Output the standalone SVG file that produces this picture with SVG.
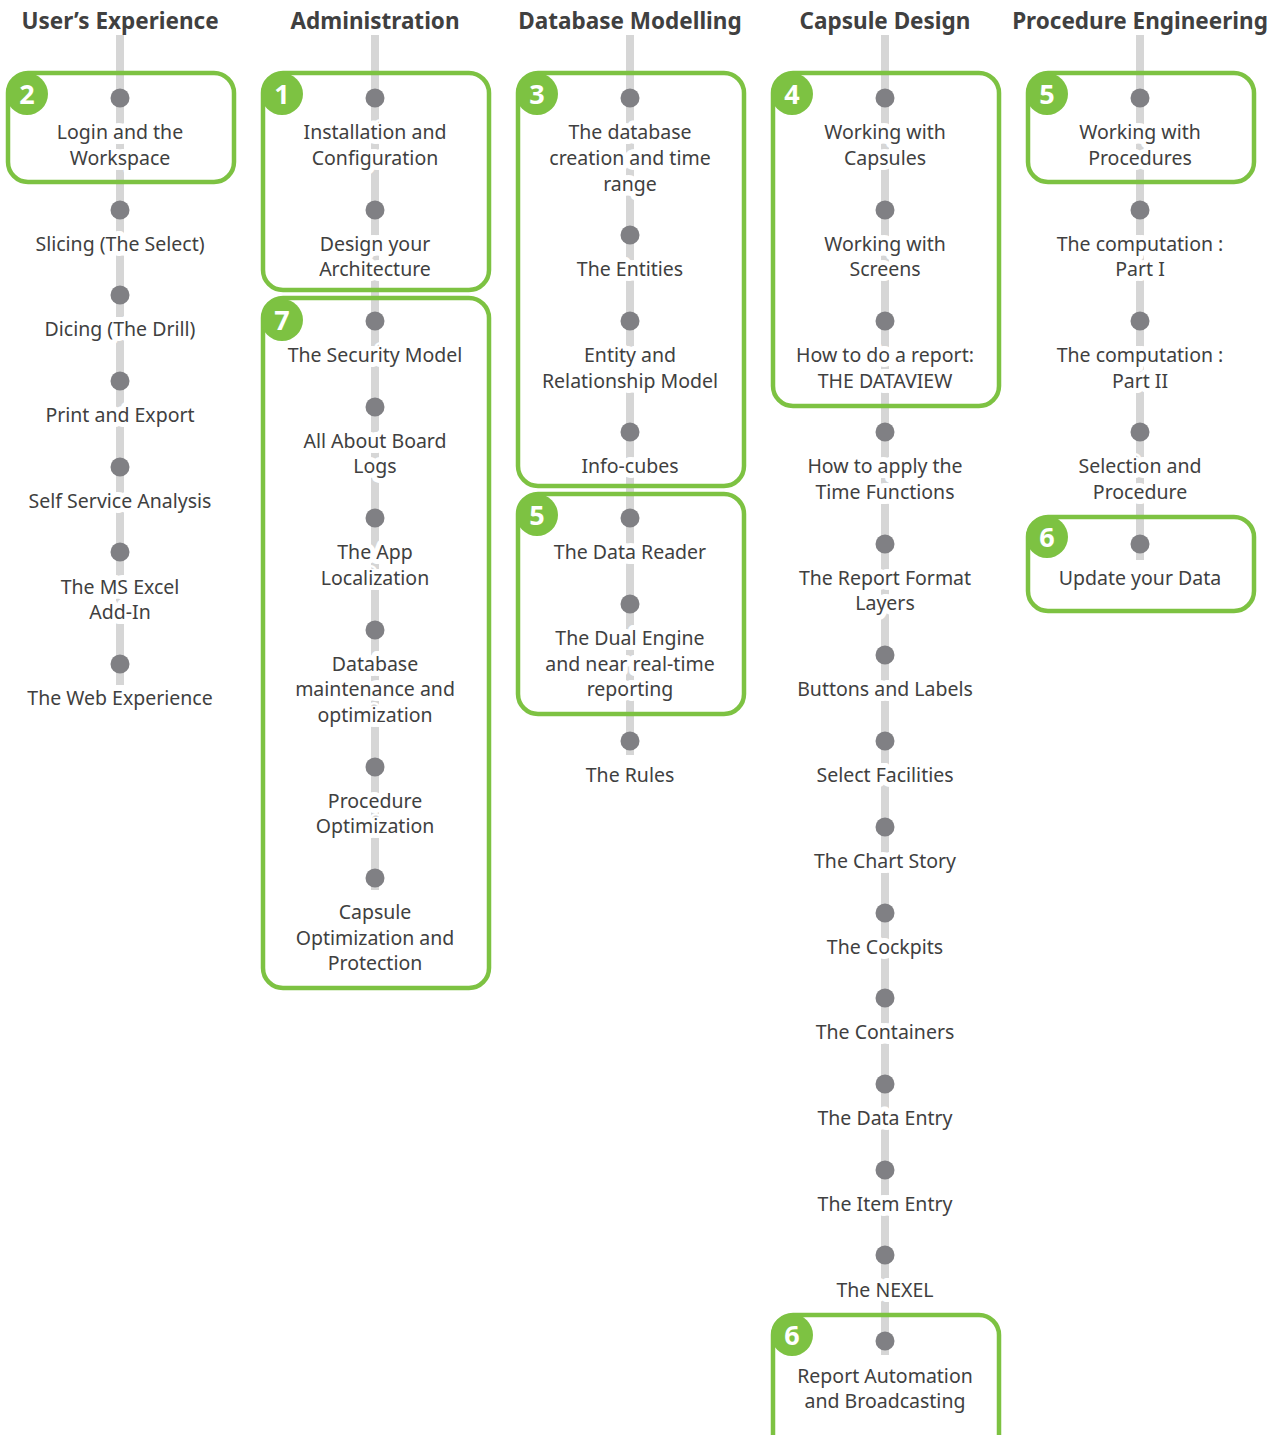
<svg xmlns="http://www.w3.org/2000/svg" width="1283" height="1435" viewBox="0 0 1283 1435">
<style>
.hdr{font-family:"Noto Sans","Open Sans",sans-serif;font-weight:bold;font-size:22.5px;fill:#404040;text-anchor:middle}
.t{font-family:"Noto Sans","Open Sans",sans-serif;font-size:19.5px;fill:#404040;text-anchor:middle;stroke:#fff;stroke-width:10;stroke-linejoin:round;paint-order:stroke}
.track{stroke:#d6d6d6;stroke-width:8;fill:none}
.dot{fill:#808084}
.box{fill:none;stroke:#7dc242;stroke-width:4.5}
.badge{fill:#7dc242}
.bn{font-family:"Noto Sans","Open Sans",sans-serif;font-weight:bold;font-size:27px;fill:#fff;text-anchor:middle}
</style>
<rect width="1283" height="1435" fill="#fff"/>
<g id="headers">
<text class="hdr" x="120" y="29">User’s Experience</text>
<text class="hdr" x="375" y="29">Administration</text>
<text class="hdr" x="630" y="29">Database Modelling</text>
<text class="hdr" x="885" y="29">Capsule Design</text>
<text class="hdr" x="1140" y="29">Procedure Engineering</text>
</g>
<g id="connectors">
<line class="track" x1="120" y1="35" x2="120" y2="685"/>
<line class="track" x1="375" y1="35" x2="375" y2="890"/>
<line class="track" x1="630" y1="35" x2="630" y2="755"/>
<line class="track" x1="885" y1="35" x2="885" y2="1355"/>
<line class="track" x1="1140" y1="35" x2="1140" y2="560"/>
</g>
<g id="groups">
<g id="box-ux-2"><rect class="box" x="8" y="73" width="226" height="109" rx="20"/><circle class="badge" cx="27" cy="94" r="21"/><text class="bn" x="27" y="104">2</text></g>
<g id="box-adm-1"><rect class="box" x="263" y="73" width="226" height="217" rx="20"/><circle class="badge" cx="282" cy="94" r="21"/><text class="bn" x="282" y="104">1</text></g>
<g id="box-adm-7"><rect class="box" x="263" y="298" width="226" height="690" rx="20"/><circle class="badge" cx="282" cy="320" r="21"/><text class="bn" x="282" y="330">7</text></g>
<g id="box-db-3"><rect class="box" x="518" y="73" width="226" height="413" rx="20"/><circle class="badge" cx="537" cy="94" r="21"/><text class="bn" x="537" y="104">3</text></g>
<g id="box-db-5"><rect class="box" x="518" y="494" width="226" height="220" rx="20"/><circle class="badge" cx="537" cy="515" r="21"/><text class="bn" x="537" y="525">5</text></g>
<g id="box-cap-4"><rect class="box" x="773" y="73" width="226" height="333" rx="20"/><circle class="badge" cx="792" cy="94" r="21"/><text class="bn" x="792" y="104">4</text></g>
<g id="box-cap-6"><rect class="box" x="773" y="1315" width="226" height="140" rx="20"/><circle class="badge" cx="792" cy="1335" r="21"/><text class="bn" x="792" y="1345">6</text></g>
<g id="box-proc-5"><rect class="box" x="1028" y="73" width="226" height="109" rx="20"/><circle class="badge" cx="1047" cy="94" r="21"/><text class="bn" x="1047" y="104">5</text></g>
<g id="box-proc-6"><rect class="box" x="1028" y="517" width="226" height="94" rx="20"/><circle class="badge" cx="1047" cy="537" r="21"/><text class="bn" x="1047" y="547">6</text></g>
</g>
<g id="col-ux">
<g id="n-login"><circle class="dot" cx="120" cy="98" r="9.5"/><text class="t" x="120" y="139">Login and the</text><text class="t" x="120" y="165">Workspace</text></g>
<g id="n-slicing"><circle class="dot" cx="120" cy="210" r="9.5"/><text class="t" x="120" y="251">Slicing (The Select)</text></g>
<g id="n-dicing"><circle class="dot" cx="120" cy="295" r="9.5"/><text class="t" x="120" y="336">Dicing (The Drill)</text></g>
<g id="n-print"><circle class="dot" cx="120" cy="381" r="9.5"/><text class="t" x="120" y="422">Print and Export</text></g>
<g id="n-self"><circle class="dot" cx="120" cy="467" r="9.5"/><text class="t" x="120" y="508">Self Service Analysis</text></g>
<g id="n-excel"><circle class="dot" cx="120" cy="552" r="9.5"/><text class="t" x="120" y="594">The MS Excel</text><text class="t" x="120" y="619">Add-In</text></g>
<g id="n-web"><circle class="dot" cx="120" cy="664" r="9.5"/><text class="t" x="120" y="705">The Web Experience</text></g>
</g>
<g id="col-adm">
<g id="n-install"><circle class="dot" cx="375" cy="98" r="9.5"/><text class="t" x="375" y="139">Installation and</text><text class="t" x="375" y="165">Configuration</text></g>
<g id="n-design"><circle class="dot" cx="375" cy="210" r="9.5"/><text class="t" x="375" y="251">Design your</text><text class="t" x="375" y="276">Architecture</text></g>
<g id="n-security"><circle class="dot" cx="375" cy="321" r="9.5"/><text class="t" x="375" y="362">The Security Model</text></g>
<g id="n-logs"><circle class="dot" cx="375" cy="407" r="9.5"/><text class="t" x="375" y="448">All About Board</text><text class="t" x="375" y="473">Logs</text></g>
<g id="n-local"><circle class="dot" cx="375" cy="518" r="9.5"/><text class="t" x="375" y="559">The App</text><text class="t" x="375" y="585">Localization</text></g>
<g id="n-dbmaint"><circle class="dot" cx="375" cy="630" r="9.5"/><text class="t" x="375" y="671">Database</text><text class="t" x="375" y="696">maintenance and</text><text class="t" x="375" y="722">optimization</text></g>
<g id="n-procopt"><circle class="dot" cx="375" cy="767" r="9.5"/><text class="t" x="375" y="808">Procedure</text><text class="t" x="375" y="833">Optimization</text></g>
<g id="n-capopt"><circle class="dot" cx="375" cy="878" r="9.5"/><text class="t" x="375" y="919">Capsule</text><text class="t" x="375" y="945">Optimization and</text><text class="t" x="375" y="970">Protection</text></g>
</g>
<g id="col-db">
<g id="n-dbcreate"><circle class="dot" cx="630" cy="98" r="9.5"/><text class="t" x="630" y="139">The database</text><text class="t" x="630" y="165">creation and time</text><text class="t" x="630" y="191">range</text></g>
<g id="n-entities"><circle class="dot" cx="630" cy="235" r="9.5"/><text class="t" x="630" y="276">The Entities</text></g>
<g id="n-erm"><circle class="dot" cx="630" cy="321" r="9.5"/><text class="t" x="630" y="362">Entity and</text><text class="t" x="630" y="388">Relationship Model</text></g>
<g id="n-cubes"><circle class="dot" cx="630" cy="432" r="9.5"/><text class="t" x="630" y="473">Info-cubes</text></g>
<g id="n-reader"><circle class="dot" cx="630" cy="518" r="9.5"/><text class="t" x="630" y="559">The Data Reader</text></g>
<g id="n-dual"><circle class="dot" cx="630" cy="604" r="9.5"/><text class="t" x="630" y="645">The Dual Engine</text><text class="t" x="630" y="671">and near real-time</text><text class="t" x="630" y="696">reporting</text></g>
<g id="n-rules"><circle class="dot" cx="630" cy="741" r="9.5"/><text class="t" x="630" y="782">The Rules</text></g>
</g>
<g id="col-cap">
<g id="n-capsules"><circle class="dot" cx="885" cy="98" r="9.5"/><text class="t" x="885" y="139">Working with</text><text class="t" x="885" y="165">Capsules</text></g>
<g id="n-screens"><circle class="dot" cx="885" cy="210" r="9.5"/><text class="t" x="885" y="251">Working with</text><text class="t" x="885" y="276">Screens</text></g>
<g id="n-dataview"><circle class="dot" cx="885" cy="321" r="9.5"/><text class="t" x="885" y="362">How to do a report:</text><text class="t" x="885" y="388">THE DATAVIEW</text></g>
<g id="n-time"><circle class="dot" cx="885" cy="432" r="9.5"/><text class="t" x="885" y="473">How to apply the</text><text class="t" x="885" y="499">Time Functions</text></g>
<g id="n-format"><circle class="dot" cx="885" cy="544" r="9.5"/><text class="t" x="885" y="585">The Report Format</text><text class="t" x="885" y="610">Layers</text></g>
<g id="n-buttons"><circle class="dot" cx="885" cy="655" r="9.5"/><text class="t" x="885" y="696">Buttons and Labels</text></g>
<g id="n-select"><circle class="dot" cx="885" cy="741" r="9.5"/><text class="t" x="885" y="782">Select Facilities</text></g>
<g id="n-chart"><circle class="dot" cx="885" cy="827" r="9.5"/><text class="t" x="885" y="868">The Chart Story</text></g>
<g id="n-cockpits"><circle class="dot" cx="885" cy="913" r="9.5"/><text class="t" x="885" y="954">The Cockpits</text></g>
<g id="n-containers"><circle class="dot" cx="885" cy="998" r="9.5"/><text class="t" x="885" y="1039">The Containers</text></g>
<g id="n-dataentry"><circle class="dot" cx="885" cy="1084" r="9.5"/><text class="t" x="885" y="1125">The Data Entry</text></g>
<g id="n-itementry"><circle class="dot" cx="885" cy="1170" r="9.5"/><text class="t" x="885" y="1211">The Item Entry</text></g>
<g id="n-nexel"><circle class="dot" cx="885" cy="1255" r="9.5"/><text class="t" x="885" y="1297">The NEXEL</text></g>
<g id="n-automation"><circle class="dot" cx="885" cy="1341" r="9.5"/><text class="t" x="885" y="1383">Report Automation</text><text class="t" x="885" y="1408">and Broadcasting</text></g>
</g>
<g id="col-proc">
<g id="n-procedures"><circle class="dot" cx="1140" cy="98" r="9.5"/><text class="t" x="1140" y="139">Working with</text><text class="t" x="1140" y="165">Procedures</text></g>
<g id="n-comp1"><circle class="dot" cx="1140" cy="210" r="9.5"/><text class="t" x="1140" y="251">The computation :</text><text class="t" x="1140" y="276">Part I</text></g>
<g id="n-comp2"><circle class="dot" cx="1140" cy="321" r="9.5"/><text class="t" x="1140" y="362">The computation :</text><text class="t" x="1140" y="388">Part II</text></g>
<g id="n-selproc"><circle class="dot" cx="1140" cy="432" r="9.5"/><text class="t" x="1140" y="473">Selection and</text><text class="t" x="1140" y="499">Procedure</text></g>
<g id="n-update"><circle class="dot" cx="1140" cy="544" r="9.5"/><text class="t" x="1140" y="585">Update your Data</text></g>
</g>
</svg>
